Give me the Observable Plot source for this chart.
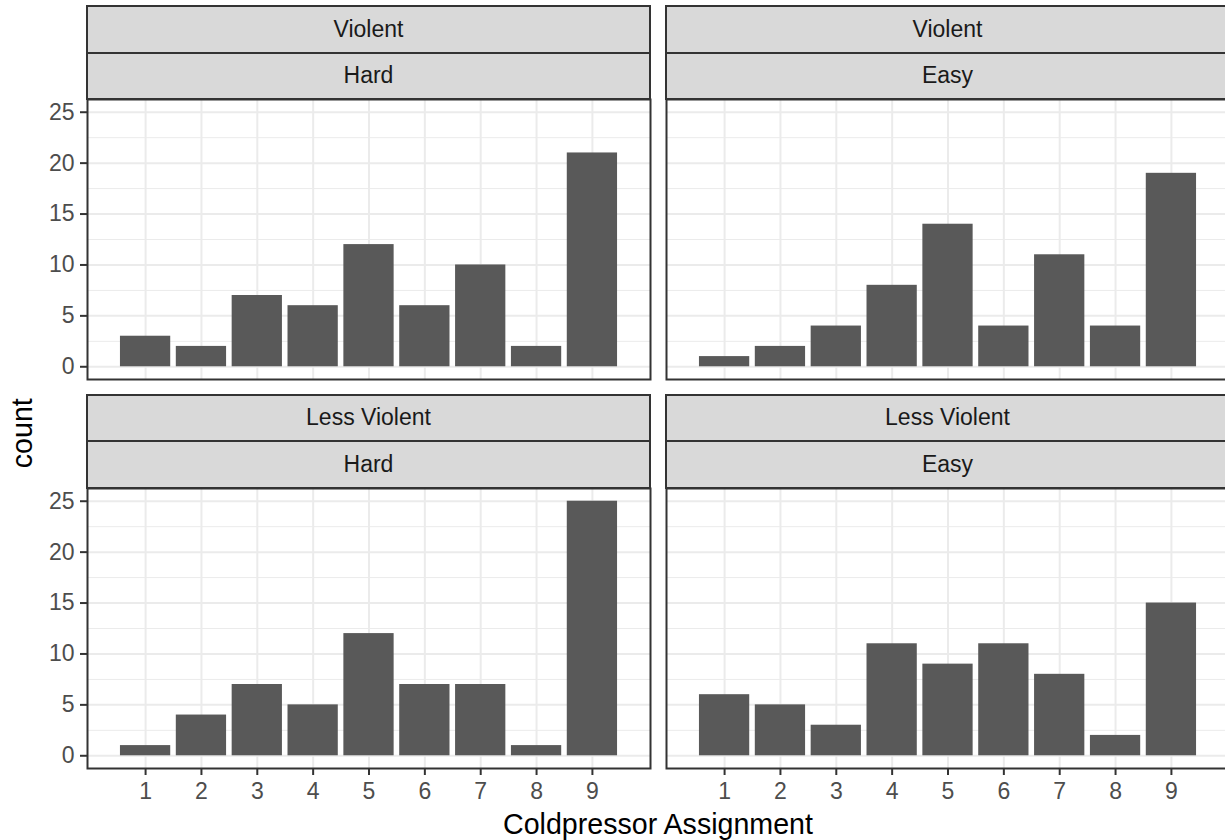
<!DOCTYPE html>
<html><head><meta charset="utf-8">
<script src="https://cdn.jsdelivr.net/npm/d3@7"></script>
<script src="https://cdn.jsdelivr.net/npm/@observablehq/plot@0.6"></script>
<style>
html,body{margin:0;padding:0;background:#fff;overflow:hidden;}
#chart{position:relative;width:1225px;height:840px;overflow:hidden;font-family:"Liberation Sans",Arial,Helvetica,sans-serif;background:#fff;}
.plotwrap{position:absolute;}
.plotwrap svg{max-width:none !important;}
.strip{position:absolute;box-sizing:border-box;background:#D9D9D9;border:2px solid #333333;color:#1A1A1A;font-size:23px;display:flex;align-items:center;justify-content:center;white-space:nowrap;}
#titles{position:absolute;left:0;top:0;pointer-events:none;}
</style></head><body><div id="chart"></div><script>
// ---- data ----
const assignments = [1, 2, 3, 4, 5, 6, 7, 8, 9];
const violenceLevels = ["Violent", "Less Violent"];
const difficulties = ["Hard", "Easy"];
const violentHard = [3, 2, 7, 6, 12, 6, 10, 2, 21];
const violentEasy = [1, 2, 4, 8, 14, 4, 11, 4, 19];
const lessViolentHard = [1, 4, 7, 5, 12, 7, 7, 1, 25];
const lessViolentEasy = [6, 5, 3, 11, 9, 11, 8, 2, 15];
const yTicks = [0, 5, 10, 15, 20, 25];
const yMinorTicks = [2.5, 7.5, 12.5, 17.5, 22.5];
const xTitle = "Coldpressor Assignment";
const yTitle = "count";

const series = [[violentHard, violentEasy], [lessViolentHard, lessViolentEasy]];

// ---- layout ----
const colLeft = [87, 666];
const rowTop = [99, 487.5];
const panelW = 563, panelH = 280, stripH = 46.5;
const font = '"Liberation Sans", Arial, Helvetica, sans-serif';
const chart = document.getElementById("chart");

function makePanel(values, r, c) {
  const data = assignments.map((a, i) => ({assignment: a, count: values[i]}));
  const ml = c === 0 ? 87 : 2, mr = 2, mt = 2, mb = r === 1 ? 45 : 2;
  const W = panelW + ml + mr, H = panelH + mt + mb;
  const marks = [
    Plot.gridY(yMinorTicks, {stroke: "#EBEBEB", strokeOpacity: 1, strokeWidth: 1}),
    Plot.gridY(yTicks, {stroke: "#EBEBEB", strokeOpacity: 1, strokeWidth: 2}),
    Plot.gridX(assignments, {stroke: "#EBEBEB", strokeOpacity: 1, strokeWidth: 2}),
    Plot.rectY(data, {x1: d => d.assignment - 0.45, x2: d => d.assignment + 0.45, y: "count", fill: "#595959"}),
    Plot.frame({stroke: "#333333", strokeWidth: 2})
  ];
  if (c === 0) marks.push(Plot.axisY(yTicks, {tickSize: 7, tickPadding: 6, stroke: "#333333", strokeWidth: 2, fill: "#4D4D4D", fontSize: 23, label: null}));
  if (r === 1) marks.push(Plot.axisX(assignments, {tickSize: 7, tickPadding: 7, stroke: "#333333", strokeWidth: 2, fill: "#4D4D4D", fontSize: 23, label: null, tickFormat: d => String(d)}));
  const p = Plot.plot({
    width: W,
    height: H,
    marginLeft: ml, marginRight: mr, marginTop: mt, marginBottom: mb,
    x: {domain: [-0.04, 10.04], axis: null},
    y: {domain: [-1.25, 26.25], axis: null},
    style: {fontFamily: font, fontSize: "23px", background: "transparent", overflow: "visible", maxWidth: "none"},
    marks
  });
  p.style.maxWidth = "none";
  p.style.width = W + "px";
  p.style.height = H + "px";
  const wrap = document.createElement("div");
  wrap.className = "plotwrap";
  wrap.style.left = (colLeft[c] - ml) + "px";
  wrap.style.top = (rowTop[r] - mt) + "px";
  wrap.style.width = W + "px";
  wrap.style.height = H + "px";
  wrap.appendChild(p);
  chart.appendChild(wrap);
}

for (let r = 0; r < 2; r++) for (let c = 0; c < 2; c++) makePanel(series[r][c], r, c);

// strips
for (let r = 0; r < 2; r++) for (let c = 0; c < 2; c++) {
  const labels = [violenceLevels[r], difficulties[c]];
  labels.forEach((lab, k) => {
    const s = document.createElement("div");
    s.className = "strip";
    s.textContent = lab;
    const top = rowTop[r] - stripH * (2 - k);
    s.style.left = (colLeft[c] - 1) + "px";
    s.style.width = (panelW + 2) + "px";
    s.style.top = (top - 1) + "px";
    s.style.height = (stripH + 2) + "px";
    chart.appendChild(s);
  });
}

// axis titles
const ns = "http://www.w3.org/2000/svg";
const svg = document.createElementNS(ns, "svg");
svg.setAttribute("id", "titles");
svg.setAttribute("width", 1225);
svg.setAttribute("height", 840);
const tx = document.createElementNS(ns, "text");
tx.setAttribute("x", (colLeft[0] + colLeft[1] + panelW) / 2);
tx.setAttribute("y", 834);
tx.setAttribute("text-anchor", "middle");
tx.setAttribute("font-family", font);
tx.setAttribute("font-size", "28.6");
tx.setAttribute("fill", "#000");
tx.textContent = xTitle;
svg.appendChild(tx);
const ty = document.createElementNS(ns, "text");
ty.setAttribute("transform", `translate(32,${(rowTop[0] + rowTop[1] + panelH) / 2}) rotate(-90)`);
ty.setAttribute("text-anchor", "middle");
ty.setAttribute("font-family", font);
ty.setAttribute("font-size", "28.6");
ty.setAttribute("fill", "#000");
ty.textContent = yTitle;
svg.appendChild(ty);
chart.appendChild(svg);
</script></body></html>
